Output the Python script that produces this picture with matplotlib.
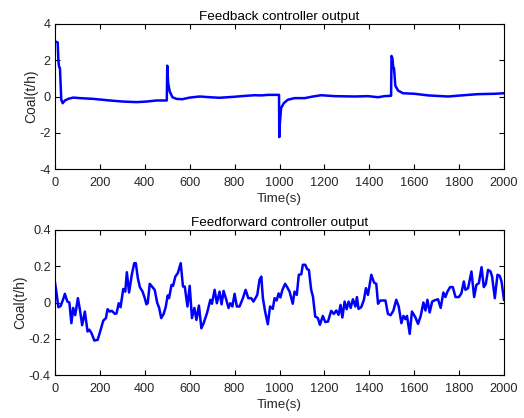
import numpy as np
import matplotlib.pyplot as plt

plt.rcParams["font.family"] = ["Liberation Sans", "DejaVu Sans"]

# feedback controller output
fb_t = [0, 3, 12, 15, 18, 22, 28, 34, 44, 59, 81, 111, 170, 244, 304, 363, 407,
        452, 498, 500, 504, 511, 523, 541, 567, 600, 644, 689, 733, 793, 852, 889,
        919, 948, 993, 998, 999, 1001, 1007, 1019, 1037, 1067, 1112, 1149, 1186,
        1245, 1335, 1394, 1439, 1468, 1497, 1499, 1503, 1507, 1510, 1516, 1528,
        1550, 1602, 1662, 1751, 1810, 1885, 1959, 2000]
fb_v = [3.0, 3.03, 2.98, 2.0, 1.65, 1.56, -0.18, -0.37, -0.22, -0.13, -0.06,
        -0.09, -0.13, -0.22, -0.28, -0.31, -0.28, -0.22, -0.22, 1.7, 0.74, 0.28,
        -0.04, -0.13, -0.15, -0.06, 0.0, -0.04, -0.07, -0.02, 0.04, 0.07, 0.06,
        0.09, 0.09, 0.09, -2.24, -1.6, -0.64, -0.37, -0.18, -0.09, -0.09, 0.0,
        0.07, 0.02, 0.0, 0.02, -0.04, 0.02, 0.04, 2.24, 2.11, 1.56, 1.56, 0.59,
        0.33, 0.18, 0.15, 0.06, 0.0, 0.06, 0.13, 0.15, 0.18]

# feedforward controller output
ff_t = [0, 7, 15, 25, 37, 44, 55, 64, 73, 81, 90, 102, 111, 121, 133, 145, 153,
        163, 175, 190, 200, 215, 227, 234, 244, 253, 267, 274, 284, 292, 304,
        313, 320, 330, 342, 353, 360, 369, 378, 390, 400, 407, 413, 422, 434,
        444, 455, 464, 473, 484, 493, 502, 508, 519, 526, 536, 547, 560, 570,
        578, 590, 600, 610, 621, 630, 641, 652, 662, 677, 692, 699, 711, 721,
        733, 742, 751, 763, 773, 781, 790, 800, 810, 822, 837, 849, 861, 874,
        884, 901, 911, 919, 926, 936, 948, 958, 970, 978, 987, 996, 1004, 1013,
        1025, 1034, 1045, 1059, 1067, 1077, 1086, 1097, 1104, 1115, 1123, 1131,
        1141, 1149, 1159, 1171, 1180, 1193, 1204, 1216, 1230, 1242, 1253, 1263,
        1272, 1280, 1290, 1299, 1308, 1317, 1327, 1338, 1345, 1352, 1364, 1376,
        1385, 1394, 1409, 1421, 1431, 1439, 1449, 1472, 1483, 1495, 1507, 1520,
        1531, 1543, 1552, 1561, 1568, 1580, 1590, 1605, 1617, 1629, 1641, 1650,
        1659, 1669, 1680, 1689, 1706, 1718, 1730, 1739, 1748, 1760, 1772, 1784,
        1799, 1810, 1821, 1828, 1840, 1855, 1867, 1877, 1888, 1900, 1910, 1919,
        1929, 1940, 1947, 1959, 1971, 1981, 1989, 2000]
ff_v = [0.11, 0.05, -0.026, -0.02, 0.02, 0.048, 0.005, 0.0, -0.114, -0.03,
        -0.07, 0.024, -0.04, -0.125, -0.05, -0.16, -0.15, -0.17, -0.21, -0.206,
        -0.165, -0.10, -0.086, -0.037, -0.05, -0.046, -0.063, -0.06, -0.004,
        -0.026, 0.075, 0.06, 0.167, 0.055, 0.153, 0.217, 0.217, 0.134, 0.085,
        0.06, 0.024, -0.01, -0.004, 0.103, 0.085, 0.07, 0.0, -0.03, -0.086,
        -0.063, -0.026, 0.039, 0.024, 0.097, 0.092, 0.143, 0.162, 0.217, 0.088,
        0.088, -0.022, 0.092, -0.086, -0.03, -0.096, -0.017, -0.142, -0.114,
        -0.059, 0.015, -0.007, 0.07, -0.004, 0.06, -0.01, 0.064, 0.015, -0.03,
        -0.004, -0.022, 0.048, -0.022, -0.022, 0.024, 0.07, 0.024, 0.024, 0.005,
        0.042, 0.125, 0.143, 0.024, -0.05, -0.12, -0.022, -0.035, 0.024, 0.011,
        0.05, 0.028, 0.07, 0.103, 0.085, 0.06, -0.007, 0.06, 0.042, 0.153,
        0.156, 0.208, 0.208, 0.184, 0.18, 0.07, 0.033, -0.077, -0.086, -0.123,
        -0.074, -0.108, -0.105, -0.046, -0.063, -0.044, -0.068, -0.013, -0.083,
        0.005, -0.037, 0.005, -0.03, 0.018, -0.022, 0.03, -0.035, -0.026, 0.015,
        0.079, 0.042, 0.153, 0.11, 0.103, -0.007, 0.011, 0.011, -0.063, -0.07,
        -0.046, 0.015, -0.022, -0.114, -0.074, -0.092, -0.074, -0.173, -0.05,
        -0.081, -0.118, -0.074, 0.0, -0.044, 0.015, -0.055, 0.005, 0.011, 0.018,
        -0.03, 0.055, 0.03, 0.06, 0.085, 0.085, 0.03, 0.03, 0.05, 0.116, 0.07,
        0.079, 0.171, 0.03, 0.097, 0.107, 0.195, 0.085, 0.103, 0.18, 0.171,
        0.143, 0.024, 0.153, 0.147, 0.116, 0.015]

titles = ["Feedback controller output", "Feedforward controller output"]
ylims = [(-4, 4), (-0.4, 0.4)]
yticks = [[-4, -2, 0, 2, 4], [-0.4, -0.2, 0, 0.2, 0.4]]
xticks = list(range(0, 2001, 200))

fig = plt.figure(figsize=(5.24, 4.18), dpi=100)
ax1 = fig.add_axes([55 / 524, 1 - 169 / 418, 449 / 524, 145 / 418])
ax2 = fig.add_axes([55 / 524, 1 - 375 / 418, 449 / 524, 145 / 418])

for ax, t, v, title, yl, yt in zip([ax1, ax2], [fb_t, ff_t], [fb_v, ff_v],
                                   titles, ylims, yticks):
    ax.plot(t, v, color="#0000ff", lw=1.8)
    ax.set_xlim(0, 2000)
    ax.set_ylim(*yl)
    ax.set_xticks(xticks)
    ax.set_yticks(yt)
    ax.set_yticklabels([f"{y:g}" for y in yt])
    ax.set_title(title, fontsize=9.7, pad=3)
    ax.set_xlabel("Time(s)", fontsize=9.6, labelpad=2.5, color="#262626")
    ax.set_ylabel("Coal(t/h)", fontsize=10, labelpad=1, color="#262626")
    ax.tick_params(direction="in", top=True, right=True, length=3.5,
                   width=0.8, labelsize=9.2, labelcolor="#262626", pad=3)
    ax.tick_params(axis="x", pad=6)
    for s in ax.spines.values():
        s.set_linewidth(0.8)

fig.savefig("out.png", dpi=100)
